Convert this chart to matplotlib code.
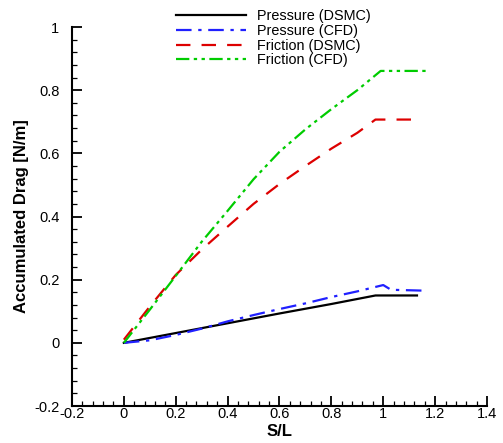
import numpy as np
import matplotlib
matplotlib.use("Agg")
import matplotlib.pyplot as plt
from matplotlib.ticker import MultipleLocator

plt.rcParams['font.family'] = ['Liberation Sans', 'DejaVu Sans']

# Datos
sl_p_dsmc = [0.0, 0.2, 0.4, 0.6, 0.8, 0.97, 1.13]
p_dsmc = [0.0, 0.031, 0.062, 0.093, 0.123, 0.150, 0.150]

sl_p_cfd = [0.0, 0.1, 0.2, 0.3, 0.4, 0.5, 0.6, 0.7, 0.8, 0.9, 1.0, 1.03, 1.17]
p_cfd = [0.0, 0.008, 0.025, 0.045, 0.068, 0.088, 0.107, 0.125, 0.145, 0.163, 0.183, 0.168, 0.165]

sl_f_dsmc = [0.0, 0.1, 0.2, 0.3, 0.4, 0.5, 0.6, 0.7, 0.8, 0.9, 0.97, 1.13]
f_dsmc = [0.01, 0.115, 0.215, 0.295, 0.368, 0.44, 0.503, 0.56, 0.615, 0.665, 0.707, 0.707]

sl_f_cfd = [0.0, 0.1, 0.2, 0.3, 0.4, 0.5, 0.6, 0.7, 0.8, 0.9, 0.99, 1.17]
f_cfd = [0.0, 0.105, 0.212, 0.32, 0.418, 0.518, 0.605, 0.676, 0.74, 0.80, 0.861, 0.861]

fig = plt.figure(figsize=(5.03, 4.43), dpi=100)
ax = fig.add_axes([0.1431, 0.0835, 0.8251, 0.8555])

ax.plot(sl_p_dsmc, p_dsmc, color='k', lw=1.6, label='Pressure (DSMC)')
ax.plot(sl_p_cfd, p_cfd, color='#2020ff', lw=1.6, dashes=(7, 3, 1.5, 3), label='Pressure (CFD)')
ax.plot(sl_f_dsmc, f_dsmc, color='#dd0000', lw=1.6, dashes=(6.5, 5), label='Friction (DSMC)')
ax.plot(sl_f_cfd, f_cfd, color='#00cc00', lw=1.6, dashes=(6, 2, 1.5, 2, 1.5, 2), label='Friction (CFD)')

ax.set_xlim(-0.2, 1.4)
ax.set_ylim(-0.2, 1.0)
ax.xaxis.set_major_locator(MultipleLocator(0.2))
ax.xaxis.set_minor_locator(MultipleLocator(0.04))
ax.yaxis.set_major_locator(MultipleLocator(0.2))
ax.yaxis.set_minor_locator(MultipleLocator(0.04))
ax.xaxis.set_major_formatter(plt.FuncFormatter(lambda v, p: ('%g' % round(v, 2))))
ax.yaxis.set_major_formatter(plt.FuncFormatter(lambda v, p: ('%g' % round(v, 2))))

ax.spines['top'].set_visible(False)
ax.spines['right'].set_visible(False)
ax.spines['left'].set_linewidth(1.5)
ax.spines['bottom'].set_linewidth(1.5)
ax.tick_params(which='major', direction='in', length=7, width=1.3, labelsize=10.5)
ax.tick_params(axis='y', which='major', pad=9)
ax.tick_params(axis='x', which='major', pad=1)
ax.tick_params(which='minor', direction='in', length=3.5, width=0.9)

ax.set_xlabel('S/L', fontsize=12, fontweight='bold', labelpad=2)
ax.set_ylabel('Accumulated Drag [N/m]', fontsize=12, fontweight='bold', labelpad=4)

ax.legend(loc='upper left', bbox_to_anchor=(0.2325, 1.067), frameon=False, fontsize=10.4,
          handlelength=4.85, labelspacing=0.06, handletextpad=0.8, borderpad=0)

fig.savefig('out.png', dpi=100)
